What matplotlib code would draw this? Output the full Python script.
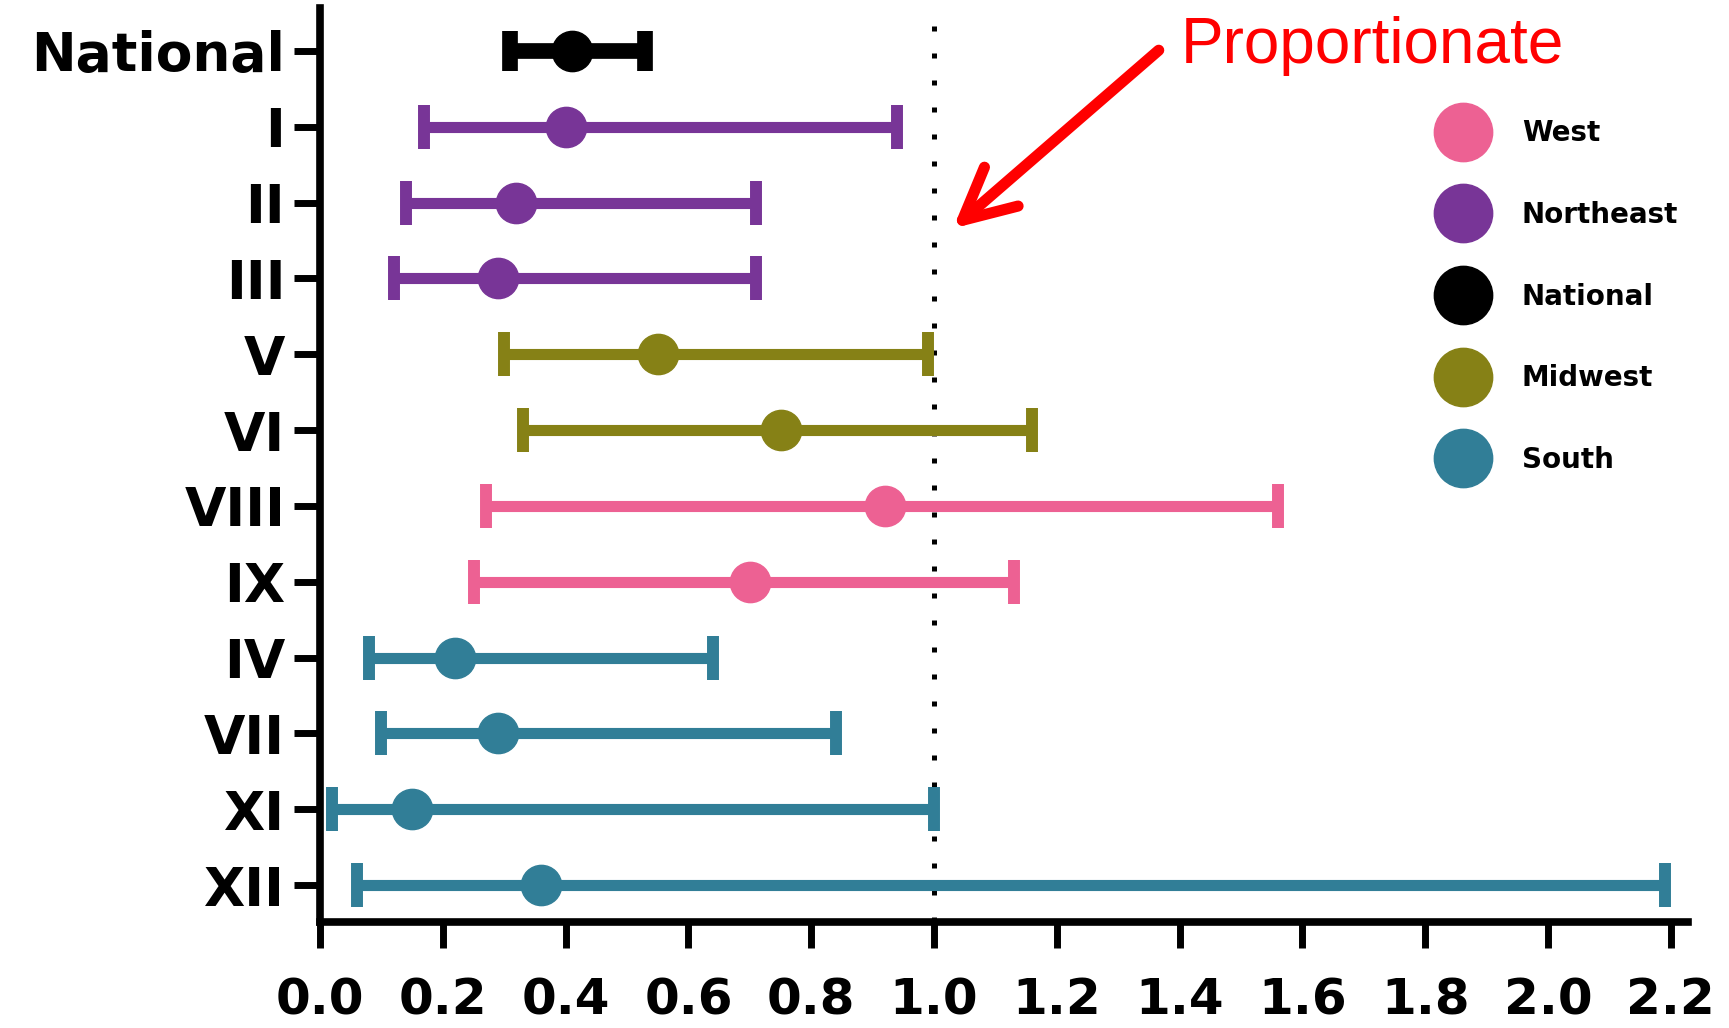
import numpy as np
import matplotlib.pyplot as plt
from matplotlib.lines import Line2D

# rate ratio with 95% CI per HHS region, grouped by census region
regions = ["National", "I", "II", "III", "V", "VI", "VIII", "IX", "IV", "VII", "XI", "XII"]
group = ["National", "Northeast", "Northeast", "Northeast", "Midwest", "Midwest",
         "West", "West", "South", "South", "South", "South"]
ratio = [0.41, 0.40, 0.32, 0.29, 0.55, 0.75, 0.92, 0.70, 0.22, 0.29, 0.15, 0.36]
lower = [0.31, 0.17, 0.14, 0.12, 0.30, 0.33, 0.27, 0.25, 0.08, 0.10, 0.02, 0.06]
upper = [0.53, 0.94, 0.71, 0.71, 0.99, 1.16, 1.56, 1.13, 0.64, 0.84, 1.00, 2.19]

legend_order = ["West", "Northeast", "National", "Midwest", "South"]
colors = {
    "West": "#ED6193",
    "Northeast": "#783597",
    "National": "#000000",
    "Midwest": "#868116",
    "South": "#317E97",
}

plt.rcParams.update({
    "font.family": "DejaVu Sans",
    "font.weight": "bold",
})

fig = plt.figure(figsize=(17.29, 10.28), dpi=100)
ax = fig.add_axes([0.18508, 0.10311, 0.97629 - 0.18508, 0.99222 - 0.10311])

pos = np.arange(len(regions))
ratio = np.array(ratio)
lower = np.array(lower)
upper = np.array(upper)

for name in legend_order:
    idx = [i for i, g in enumerate(group) if g == name]
    x = ratio[idx]
    big = name == "National"
    ax.errorbar(x, pos[idx], xerr=[x - lower[idx], upper[idx] - x],
                fmt="o", color=colors[name], ms=29,
                elinewidth=11.3 if big else 8,
                capsize=14.4 if big else 15.5,
                capthick=11.3 if big else 8.6,
                zorder=3)

# line of proportionality
ax.axvline(1.0, color="black", lw=3.6, linestyle=(0, (1, 4.4)), zorder=1)

ax.set_xlim(0, 2.228)
ax.set_ylim(11.488, -0.567)
ax.set_xticks(np.arange(0, 2.21, 0.2))
ax.set_xticklabels([f"{v:.1f}" for v in np.arange(0, 2.21, 0.2)])
ax.set_yticks(pos)
ax.set_yticklabels(regions)

ax.spines[["top", "right"]].set_visible(False)
for side in ["left", "bottom"]:
    ax.spines[side].set_linewidth(5.5)
ax.tick_params(axis="both", width=5, length=19, direction="out")
ax.tick_params(axis="x", pad=20, labelsize=36)
ax.tick_params(axis="y", pad=6, labelsize=38.5)

ax.text(1.402, 0.158, "Proportionate", color="red", fontsize=46,
        fontweight="normal", family="Liberation Sans", ha="left", va="baseline")
ax.annotate("", xy=(1.031, 2.34), xytext=(1.366, -0.01),
            arrowprops=dict(arrowstyle="->,head_length=1.0,head_width=0.5",
                            color="red", lw=8, mutation_scale=37,
                            shrinkA=0, shrinkB=0,
                            joinstyle="round", capstyle="round"))

handles = [Line2D([], [], ls="none", marker="o", ms=42, color=colors[n], label=n)
           for n in legend_order]
ax.legend(handles=handles, loc="upper left", bbox_to_anchor=(0.838, 0.8838),
          bbox_transform=fig.transFigure, frameon=False,
          prop={"weight": "bold", "size": 20}, labelspacing=1.93,
          handlelength=1.0, handletextpad=1.62, borderpad=0, borderaxespad=0)

fig.savefig("out.png", dpi=100)
